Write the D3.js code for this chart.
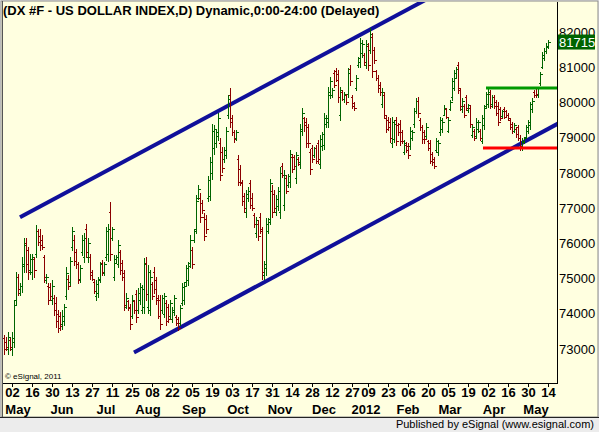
<!DOCTYPE html>
<html>
<head>
<meta charset="utf-8">
<script src="https://cdn.jsdelivr.net/npm/d3@7"></script>
<style>
  body { margin: 0; background: #fff; }
  svg { display: block; font-family: Arial, "Liberation Sans", sans-serif; }
</style>
</head>
<body>
<div id="chart"></div>
<script>
// ── Data ────────────────────────────────────────────────────
const TITLE = "(DX #F - US DOLLAR INDEX,D) Dynamic,0:00-24:00 (Delayed)";
const startDate = "2011-04-26";
const endDate   = "2012-05-14";
const holidays  = ["2011-12-26", "2012-01-02"];

// daily bars: [open, high, low, close]
const ohlc = [
  [73.30,73.39,72.87,73.00],[73.20,73.35,72.97,73.05],[73.00,73.49,72.87,73.35],[73.25,73.30,72.97,73.05],[73.00,73.49,72.82,73.30],
  [73.20,74.39,73.06,74.25],[74.40,75.19,74.29,75.05],[75.05,75.14,74.53,74.70],[74.60,74.86,74.53,74.80],[74.80,75.62,74.62,75.40],
  [75.35,76.14,75.19,75.95],[76.00,76.16,75.19,75.40],[75.80,75.90,75.00,75.20],[75.25,75.71,75.14,75.55],[75.20,75.71,75.00,75.60],
  [75.55,75.62,75.05,75.25],[75.70,76.52,75.62,76.35],[76.35,76.42,75.95,76.05],[76.20,76.42,75.81,75.95],[76.10,76.23,75.85,75.90],
  [75.60,75.67,74.91,75.05],[74.95,75.14,74.86,75.05],[74.80,74.86,74.29,74.40],[74.75,74.86,74.43,74.50],[74.40,74.95,74.29,74.80],
  [74.45,74.53,73.96,74.10],[74.30,74.48,73.63,73.80],[74.00,74.10,73.49,73.60],[73.95,74.05,73.53,73.65],[73.70,74.10,73.58,73.95],
  [73.80,74.29,73.68,74.20],[74.50,75.33,74.43,75.15],[75.00,75.10,74.70,74.80],[74.90,75.62,74.81,75.50],[75.90,76.47,75.81,76.35],
  [76.10,76.23,75.38,75.50],[75.75,75.85,75.29,75.40],[75.40,75.47,74.86,74.95],[75.00,75.38,74.91,75.30],[75.75,76.23,75.67,76.10],
  [75.60,76.28,75.47,76.15],[76.40,76.56,75.62,75.75],[75.60,76.14,75.47,76.00],[75.60,75.71,75.00,75.10],[75.20,75.24,74.95,75.00],
  [74.90,74.95,74.58,74.65],[74.50,74.95,74.39,74.85],[74.60,75.05,74.48,74.95],[75.00,75.48,74.91,75.40],[75.45,75.52,75.10,75.20],
  [75.15,75.48,75.10,75.40],[75.60,76.47,75.52,76.35],[75.70,76.56,75.50,76.40],[76.90,77.18,75.52,75.70],[76.15,76.47,76.09,76.40],
  [75.05,75.66,74.95,75.55],[75.45,75.66,75.43,75.60],[75.40,76.09,75.33,75.95],[75.75,75.81,75.14,75.25],[75.45,75.52,74.95,75.05],
  [75.15,75.24,74.10,74.25],[74.20,74.58,74.15,74.45],[74.35,74.39,74.10,74.15],[74.20,74.29,73.58,73.70],[73.95,74.53,73.87,74.40],
  [74.35,74.39,74.01,74.10],[74.55,74.67,73.77,73.90],[74.10,74.72,74.01,74.60],[74.40,74.86,74.29,74.75],[74.10,74.81,74.01,74.70],
  [74.20,75.57,74.01,75.40],[75.45,75.62,74.39,74.55],[74.20,75.38,74.01,75.20],[74.10,75.24,73.96,75.05],[74.85,74.91,74.43,74.50],
  [75.20,75.33,74.58,74.70],[74.95,75.05,74.29,74.40],[74.45,74.53,73.87,73.95],[74.40,74.53,73.58,73.70],[74.10,74.53,74.01,74.45],
  [74.00,74.58,73.91,74.50],[74.30,74.39,73.68,73.80],[74.20,74.29,73.77,73.85],[73.95,74.39,73.87,74.30],[73.85,74.20,73.77,74.10],
  [74.05,74.53,73.96,74.45],[73.90,73.96,73.68,73.75],[73.85,73.91,73.53,73.60],[73.75,74.24,73.68,74.15],[74.30,74.86,74.24,74.75],
  [74.40,74.91,74.29,74.80],[74.90,75.38,74.81,75.30],[74.95,75.48,74.81,75.35],[75.45,76.23,75.33,76.10],[75.80,75.90,75.29,75.40],
  [76.10,76.42,76.04,76.35],[76.40,77.37,76.28,77.20],[77.30,77.65,77.27,77.55],[77.30,77.42,76.61,76.75],[77.15,77.23,76.85,76.95],
  [76.75,76.85,76.09,76.20],[76.70,76.80,76.28,76.40],[77.30,77.90,77.20,77.80],[77.35,78.46,77.23,78.30],[78.00,79.40,77.84,79.20],
  [78.70,79.36,78.55,79.25],[78.85,79.26,78.74,79.15],[79.05,79.69,78.93,79.55],[78.85,78.98,77.80,77.95],[78.60,78.74,78.03,78.15],
  [78.40,78.74,78.32,78.65],[78.50,79.31,78.41,79.20],[79.65,80.21,79.55,80.10],[80.20,80.40,79.31,79.45],[79.55,79.64,79.07,79.15],
  [79.15,79.22,78.88,78.95],[79.00,79.22,78.93,79.15],[78.40,78.50,77.65,77.75],[78.10,78.22,77.65,77.75],[77.70,77.80,77.09,77.20],
  [77.35,77.42,76.90,77.00],[76.90,77.51,76.75,77.40],[77.30,77.60,77.20,77.50],[77.70,77.80,76.99,77.10],[77.30,77.42,76.94,77.00],
  [76.80,76.85,76.47,76.55],[76.30,76.75,76.19,76.65],[76.55,76.66,76.09,76.20],[76.75,76.85,76.28,76.40],[76.35,76.47,75.00,75.20],
  [75.10,75.50,75.00,75.40],[75.30,76.71,75.10,76.55],[76.35,76.71,76.28,76.60],[76.70,77.84,76.56,77.70],[77.50,77.65,76.75,76.90],
  [77.40,77.51,76.90,77.00],[76.90,77.37,76.80,77.25],[77.05,77.61,76.94,77.50],[76.90,78.17,76.71,78.00],[78.20,78.27,77.89,77.95],
  [77.10,78.08,76.94,77.95],[77.85,77.94,77.42,77.50],[77.65,77.98,77.61,77.90],[77.75,78.65,77.61,78.55],[78.45,78.55,78.03,78.10],
  [78.45,78.50,78.13,78.20],[77.85,78.60,77.70,78.50],[78.40,78.46,78.22,78.25],[78.30,79.40,78.13,79.25],[79.20,79.83,79.07,79.70],
  [79.55,79.60,79.20,79.35],[79.45,79.55,78.74,78.85],[79.30,79.40,78.74,78.85],[78.60,78.69,77.98,78.10],[78.70,78.79,78.32,78.40],
  [78.50,78.74,78.46,78.70],[78.70,78.79,78.27,78.35],[78.85,78.93,78.27,78.40],[78.25,79.07,78.13,78.95],[78.75,79.17,78.65,79.10],
  [78.80,79.69,78.69,79.55],[79.40,79.64,79.31,79.55],[79.45,80.45,79.31,80.30],[80.20,80.73,80.12,80.60],[80.20,80.40,80.16,80.35],
  [80.85,80.92,80.45,80.50],[80.90,80.97,80.60,80.65],[80.80,80.92,80.02,80.15],[79.65,80.45,79.50,80.35],[80.30,80.35,80.07,80.10],
  [80.10,80.30,80.02,80.25],[80.20,80.25,79.95,80.00],[80.25,80.97,80.16,80.85],[80.95,81.06,80.49,80.60],[80.15,80.21,79.83,79.90],
  [79.98,80.02,79.78,79.85],[80.40,80.78,80.35,80.70],[81.05,81.30,81.02,81.25],[81.15,81.82,81.02,81.70],[81.40,81.77,81.30,81.65],
  [81.35,81.39,81.06,81.15],[81.05,81.77,80.97,81.65],[81.60,81.68,80.92,81.05],[81.50,82.10,81.40,81.95],[81.85,81.96,80.73,80.90],
  [81.50,81.58,81.11,81.20],[80.88,80.92,80.64,80.70],[80.70,80.78,80.30,80.40],[80.50,80.59,80.21,80.30],[79.95,80.40,79.88,80.30],
  [80.20,80.30,79.55,79.65],[79.55,79.64,79.17,79.25],[79.50,79.59,79.22,79.30],[79.45,79.55,78.88,79.00],[78.85,79.59,78.74,79.45],
  [78.95,79.50,78.88,79.40],[79.50,79.59,78.79,78.90],[79.35,79.41,79.07,79.15],[79.40,79.50,78.79,78.90],[79.15,79.22,78.84,78.90],
  [78.60,78.93,78.55,78.85],[78.80,78.88,78.60,78.65],[78.75,78.84,78.41,78.50],[78.75,79.31,78.69,79.20],[79.00,79.22,78.93,79.15],
  [79.40,79.83,79.31,79.75],[79.75,80.12,79.69,80.05],[80.05,80.16,79.59,79.70],[79.50,79.55,79.22,79.30],[79.30,79.36,78.84,78.95],
  [79.15,79.22,78.84,78.95],[79.05,79.41,78.98,79.30],[78.90,78.93,78.65,78.70],[78.85,78.93,78.27,78.35],[78.55,78.60,78.22,78.30],
  [78.40,78.46,78.13,78.20],[78.65,78.98,78.60,78.90],[78.60,78.93,78.51,78.85],[79.15,79.60,79.07,79.50],[79.25,79.55,79.17,79.45],
  [79.65,79.93,79.64,79.85],[79.80,79.83,79.55,79.60],[79.20,79.55,79.17,79.50],[79.80,80.07,79.79,80.00],[80.15,80.68,80.07,80.60],
  [80.40,80.92,80.35,80.85],[80.70,81.02,80.68,80.95],[81.05,81.16,80.26,80.40],[80.35,80.40,79.79,79.90],[79.80,80.12,79.74,80.05],
  [79.90,79.97,79.60,79.65],[80.15,80.21,79.79,79.85],[79.78,79.97,79.74,79.92],[79.85,79.93,79.31,79.40],[79.08,79.36,79.03,79.30],
  [79.20,79.26,78.93,79.00],[79.05,79.55,78.98,79.45],[79.25,79.50,79.17,79.45],[79.20,79.26,78.93,79.00],[78.90,79.64,78.84,79.55],
  [79.35,79.93,79.26,79.85],[79.90,80.31,79.83,80.25],[79.95,80.40,79.88,80.30],[80.25,80.35,79.83,79.90],[79.95,80.21,79.88,80.15],
  [80.15,80.21,79.83,79.90],[80.00,80.07,79.64,79.70],[79.90,80.02,79.36,79.45],[79.80,79.88,79.50,79.55],[79.62,79.79,79.60,79.75],
  [79.80,79.88,79.55,79.60],[79.75,79.79,79.60,79.65],[79.65,79.69,79.50,79.55],[79.50,79.55,79.26,79.30],[79.40,79.45,79.12,79.20],
  [79.20,79.41,79.17,79.35],[79.25,79.31,79.03,79.10],[79.30,79.36,78.93,79.00],[79.00,79.07,78.65,78.75],[78.70,78.98,78.65,78.90],
  [78.88,79.03,78.84,79.00],[79.02,79.36,78.98,79.30],[79.18,79.50,79.12,79.45],[79.35,80.02,79.26,79.95],[79.80,80.12,79.74,80.05],
  [80.30,80.35,80.16,80.20],[80.40,80.45,80.16,80.25],[80.20,80.45,80.16,80.40],[80.55,80.87,80.49,80.80],[81.00,81.44,80.97,81.35],
  [81.25,81.54,81.20,81.45],[81.45,81.68,81.39,81.60],[81.58,81.77,81.54,81.715]
];

// bottom axis labels
const dayTicks = ["2011-05-02","2011-05-16","2011-05-30","2011-06-13","2011-06-27","2011-07-11","2011-07-25",
  "2011-08-08","2011-08-22","2011-09-05","2011-09-19","2011-10-03","2011-10-17","2011-10-31","2011-11-14",
  "2011-11-28","2011-12-12","2011-12-27","2012-01-09","2012-01-23","2012-02-06","2012-02-20","2012-03-05",
  "2012-03-19","2012-04-02","2012-04-16","2012-04-30","2012-05-14"];
const monthKeys   = ["2011-05","2011-06","2011-07","2011-08","2011-09","2011-10","2011-11","2011-12",
  "2012-01","2012-02","2012-03","2012-04","2012-05"];
const monthLabels = ["May","Jun","Jul","Aug","Sep","Oct","Nov","Dec","2012","Feb","Mar","Apr","May"];

// right axis
const priceTicks = [73, 74, 75, 76, 77, 78, 79, 80, 81, 82];

// drawn studies: channel [bar index, price], horizontal levels
const channelUpper = [[8, 76.74], [212, 82.95]];
const channelLower = [[65, 72.90], [277, 79.40]];
const levelHigh = { fromBar: 241, price: 80.41 };
const levelLow  = { fromBar: 239.5, price: 78.71 };

// ── Layout ──────────────────────────────────────────────────
const W = 599, H = 432;
const plot = { left: 2, right: 557, top: 2, bottom: 384 };
const BG = "#ffffe0";
const UP = "#006400", DOWN = "#8b0000";
const CHANNEL = "#10109a";

const svg = d3.select("#chart").append("svg")
  .attr("width", W).attr("height", H);

svg.append("rect").attr("width", W).attr("height", H).attr("fill", "#ececec");
svg.append("rect").attr("x", 1).attr("y", 1).attr("width", 597).attr("height", 416)
  .attr("fill", BG).attr("stroke", "#8a8a8a").attr("stroke-width", 1);
svg.append("line").attr("x1", 0).attr("x2", W).attr("y1", 417.5).attr("y2", 417.5)
  .attr("stroke", "#222");

// trading days
const parse = d3.utcParse("%Y-%m-%d");
const fmt   = d3.utcFormat("%Y-%m-%d");
const dates = d3.utcDays(parse(startDate), d3.utcDay.offset(parse(endDate), 1))
  .filter(d => d.getUTCDay() % 6 !== 0 && !holidays.includes(fmt(d)));
const idx = new Map(dates.map((d, i) => [fmt(d), i]));

// ── Scales ──────────────────────────────────────────────────
const x = d3.scaleLinear().domain([0, ohlc.length - 1]).range([4, 548]);
const y = d3.scaleLinear().domain([73, 82]).range([349, 32]);

svg.append("clipPath").attr("id", "plotclip")
  .append("rect").attr("x", plot.left).attr("y", plot.top)
  .attr("width", plot.right - plot.left).attr("height", plot.bottom - plot.top);

const g = svg.append("g").attr("clip-path", "url(#plotclip)");

// ── Channel lines ──────────────────────────────────────────
[channelUpper, channelLower].forEach(pts => {
  g.append("line")
    .attr("x1", x(pts[0][0])).attr("y1", y(pts[0][1]))
    .attr("x2", x(pts[1][0])).attr("y2", y(pts[1][1]))
    .attr("stroke", CHANNEL).attr("stroke-width", 4);
});

// ── OHLC bars ──────────────────────────────────────────────
const bars = g.append("g").attr("shape-rendering", "crispEdges");
ohlc.forEach((d, i) => {
  const [o, h, l, c] = d;
  const col = c >= o ? UP : DOWN;
  const cx = Math.round(x(i)) + 0.5;
  bars.append("line").attr("x1", cx).attr("x2", cx)
    .attr("y1", y(h)).attr("y2", y(l) + 1).attr("stroke", col);
  bars.append("line").attr("x1", cx - 2).attr("x2", cx)
    .attr("y1", Math.round(y(o)) + 0.5).attr("y2", Math.round(y(o)) + 0.5).attr("stroke", col);
  bars.append("line").attr("x1", cx).attr("x2", cx + 2)
    .attr("y1", Math.round(y(c)) + 0.5).attr("y2", Math.round(y(c)) + 0.5).attr("stroke", col);
});

// ── Horizontal levels ──────────────────────────────────────
[[levelHigh, "#009a00"], [levelLow, "#ff0000"]].forEach(([lv, col]) => {
  g.append("line")
    .attr("x1", x(lv.fromBar)).attr("x2", plot.right)
    .attr("y1", y(lv.price)).attr("y2", y(lv.price))
    .attr("stroke", col).attr("stroke-width", 3);
});

// ── Frame lines ────────────────────────────────────────────
svg.append("line").attr("x1", plot.right + 0.5).attr("x2", plot.right + 0.5)
  .attr("y1", plot.top).attr("y2", plot.bottom).attr("stroke", "#000");
svg.append("line").attr("x1", plot.left).attr("x2", plot.right + 1)
  .attr("y1", plot.bottom - 0.5).attr("y2", plot.bottom - 0.5).attr("stroke", "#000");
svg.append("line").attr("x1", 2.5).attr("x2", 2.5)
  .attr("y1", 1).attr("y2", 417).attr("stroke", "#555");

// ── Right price axis ───────────────────────────────────────
svg.append("g")
  .attr("transform", `translate(${plot.right + 2},0)`)
  .call(d3.axisRight(y).tickValues(priceTicks).tickSize(0).tickPadding(0)
    .tickFormat(d => d3.format("d")(d * 1000)))
  .call(ax => ax.select(".domain").remove())
  .selectAll("text")
    .attr("font-size", 13).attr("font-family", "Arial, sans-serif").attr("fill", "#000");

// last price marker
const last = ohlc[ohlc.length - 1][3];
svg.append("rect").attr("x", plot.right + 1).attr("y", y(last) - 7.5)
  .attr("width", 37).attr("height", 15).attr("fill", "#006400");
svg.append("text").attr("x", plot.right + 2).attr("y", y(last)).attr("dy", "0.36em")
  .attr("font-size", 13).attr("fill", "#fff").text(d3.format("d")(last * 1000));

// ── Bottom date axis ───────────────────────────────────────
const tickIdx = dayTicks.map(d => idx.get(d));
svg.append("g")
  .attr("transform", `translate(0,${plot.bottom})`)
  .call(d3.axisBottom(x).tickValues(tickIdx).tickSize(3).tickPadding(1)
    .tickFormat(i => d3.utcFormat("%d")(dates[i])))
  .call(ax => ax.select(".domain").remove())
  .call(ax => ax.selectAll("line").attr("stroke", "#000"))
  .selectAll("text")
    .attr("font-size", 13).attr("font-weight", "bold")
    .attr("font-family", "Arial, sans-serif").attr("fill", "#000");

// month labels, just after each month's first session
monthKeys.forEach((m, k) => {
  const first = dates.findIndex(d => fmt(d).slice(0, 7) === m);
  svg.append("text")
    .attr("x", x(Math.max(first, 4) + 3)).attr("y", 414)
    .attr("text-anchor", "middle")
    .attr("font-size", 13).attr("font-weight", "bold").attr("fill", "#000")
    .text(monthLabels[k]);
});

// ── Texts ──────────────────────────────────────────────────
svg.append("text").attr("x", 3).attr("y", 15)
  .attr("font-size", 13).attr("font-weight", "bold").attr("fill", "#000")
  .text(TITLE);

svg.append("text").attr("x", 5).attr("y", 379)
  .attr("font-size", 8).attr("fill", "#000")
  .text("\u00a9 eSignal, 2011");

svg.append("text").attr("x", 594).attr("y", 428)
  .attr("text-anchor", "end").attr("font-size", 11).attr("fill", "#000")
  .text("Published by eSignal (www.esignal.com)");
</script>
</body>
</html>
